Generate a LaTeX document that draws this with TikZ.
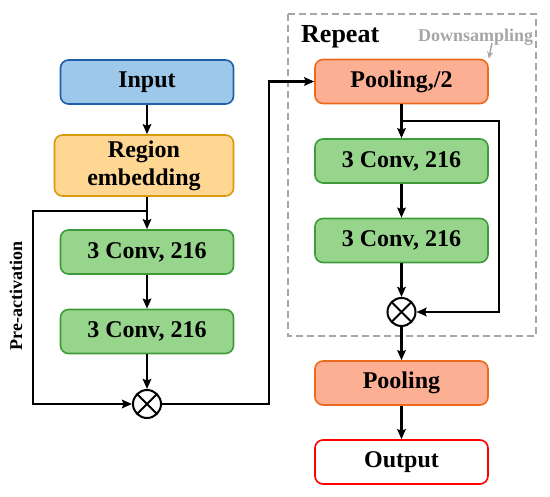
\documentclass[tikz,border=0pt]{standalone}
\usepackage{fontspec}
\setmainfont{Liberation Serif}
\usetikzlibrary{positioning, arrows.meta}

\definecolor{inFill}{HTML}{9DC8EA}
\definecolor{inDraw}{HTML}{1F5FA8}
\definecolor{regFill}{HTML}{FFD792}
\definecolor{regDraw}{HTML}{D99A0A}
\definecolor{convFill}{HTML}{98D58C}
\definecolor{convDraw}{HTML}{3E9B3A}
\definecolor{poolFill}{HTML}{FDAF94}
\definecolor{poolDraw}{HTML}{EB6A1E}
\definecolor{repGray}{HTML}{A6A6A6}

\tikzset{
  block/.style={rounded corners=8pt, line width=1.6pt, minimum width=173pt,
    minimum height=44pt, inner sep=0pt, align=center,
    font=\fontsize{24}{28}\selectfont\bfseries},
  inbox/.style={block, draw=inDraw, fill=inFill},
  regbox/.style={block, draw=regDraw, fill=regFill, minimum width=179pt, minimum height=61pt},
  convbox/.style={block, draw=convDraw, fill=convFill},
  poolbox/.style={block, draw=poolDraw, fill=poolFill},
  outbox/.style={block, draw=red, fill=white},
  sumnode/.style={circle, draw, line width=2pt, minimum size=28pt, inner sep=0pt,
    path picture={\draw[line width=2pt]
      (path picture bounding box.north west) -- (path picture bounding box.south east)
      (path picture bounding box.north east) -- (path picture bounding box.south west);}},
  conn/.style={line width=2.2pt, -{Stealth[length=10pt, width=8.5pt, inset=1.5pt]}}
}

\begin{document}
\begin{tikzpicture}[x=1pt, y=-1pt]
  \useasboundingbox (0,0) rectangle (550,497);

  % Repeat block
  \draw[repGray, line width=2pt, dash pattern=on 7pt off 4pt] (288,14) rectangle (536,336);
  \node[anchor=base west, inner sep=0pt, font=\fontsize{26}{30}\selectfont\bfseries] (rep) at (301,43) {Repeat};
  \node[anchor=base west, inner sep=0pt, text=repGray, font=\fontsize{18}{20}\selectfont\bfseries] (down) at (418,42) {Downsampling};

  % Left column
  \node[inbox] (in) at (147,82) {Input};
  \node[regbox] (reg) at (144,165.5) {Region\\embedding};
  \node[convbox] (c1) at (147,252) {3 Conv, 216};
  \node[convbox] (c2) at (147,331.5) {3 Conv, 216};
  \node[sumnode] (s1) at (147,404) {};

  % Right column
  \node[poolbox] (p2) at (401.5,81.5) {Pooling,/2};
  \node[convbox] (c3) at (401.5,161) {3 Conv, 216};
  \node[convbox] (c4) at (401.5,240.5) {3 Conv, 216};
  \node[sumnode] (s2) at (401.5,312) {};
  \node[poolbox] (p) at (401.5,383) {Pooling};
  \node[outbox] (out) at (401.5,462) {Output};

  % Corner points
  \coordinate (skipA) at (147,211);
  \coordinate (skipB) at (33,211);
  \coordinate (turn) at (269,404);
  \coordinate (skipC) at (401.5,121);
  \coordinate (skipD) at (499,121);

  % Main path
  \draw[conn] (in) -- (in |- reg.north);
  \draw[conn] (reg.south -| c1) -- (c1);
  \draw[conn] (c1) -- (c2);
  \draw[conn] (c2) -- (s1);
  \draw[conn] (s1) -- (turn) |- (p2);
  \draw[conn] (p2) -- (c3);
  \draw[conn] (c3) -- (c4);
  \draw[conn] (c4) -- (s2);
  \draw[conn] (s2) -- (p);
  \draw[conn] (p) -- (out);

  % Shortcuts
  \draw[conn] (skipA) -- (skipB) |- (s1);
  \draw[conn] (skipC) -- (skipD) |- (s2);

  \node[rotate=90, inner sep=0pt, font=\fontsize{18}{20}\selectfont\bfseries] (pre) at (16,296) {Pre-activation};

  % Downsampling pointer
  \draw[repGray, line width=1.5pt, -{Stealth[length=7pt, width=6pt]}] (492,43) -- (p2.north east);
\end{tikzpicture}
\end{document}
